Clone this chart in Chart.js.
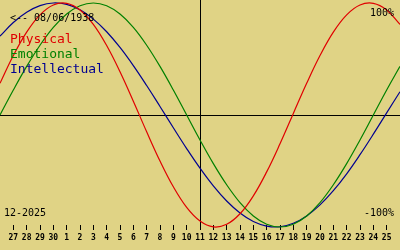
<!DOCTYPE html>
<html><head><meta charset="utf-8">
<script src="https://cdn.jsdelivr.net/npm/chart.js@4"></script>
<style>html,body{margin:0;padding:0;background:#E0D385;overflow:hidden}#wrap{width:400px;height:250px;position:relative}canvas{display:block}</style>
</head><body><div id="wrap"><canvas id="c" width="400" height="250"></canvas></div>
<script>
const days = ["26","27","28","29","30","1","2","3","4","5","6","7","8","9","10","11","12","13","14","15","16","17","18","19","20","21","22","23","24","25","26"];
const physical = [0.283,0.531,0.740,0.894,0.982,0.997,0.938,0.809,0.620,0.386,0.123,-0.150,-0.411,-0.641,-0.825,-0.947,-0.999,-0.976,-0.882,-0.722,-0.508,-0.257,0.014,0.283,0.531,0.740,0.894,0.982,0.997,0.938,0.809];
const emotional = [0.000,0.223,0.434,0.623,0.782,0.901,0.975,1.000,0.975,0.901,0.782,0.623,0.434,0.223,0.000,-0.223,-0.434,-0.623,-0.782,-0.901,-0.975,-1.000,-0.975,-0.901,-0.782,-0.623,-0.434,-0.223,0.000,0.223,0.434];
const intellectual = [0.704,0.826,0.917,0.976,1.000,0.987,0.939,0.856,0.743,0.603,0.441,0.263,0.076,-0.114,-0.300,-0.475,-0.633,-0.768,-0.875,-0.951,-0.992,-0.998,-0.967,-0.901,-0.803,-0.676,-0.525,-0.354,-0.171,0.019,0.208];
const seriesNames = ["Physical","Emotional","Intellectual"];
const seriesColors = ["#E00000","#008000","#000090"];
const birthText = "<-- 08/06/1938";
const monthText = "12-2025";
const topText = "100%";
const bottomText = "-100%";
const todayIndex = 15;

const overlay = {
  id:'overlay',
  beforeDraw(chart){
    const ctx=chart.ctx;
    ctx.save();ctx.fillStyle='#E0D385';ctx.fillRect(0,0,chart.width,chart.height);ctx.restore();
  },
  beforeDatasetsDraw(chart){
    const ctx=chart.ctx, x=chart.scales.x, y=chart.scales.y;
    ctx.save();
    ctx.fillStyle='#000';
    const y0=Math.round(y.getPixelForValue(0));
    ctx.fillRect(0,y0,chart.width,1);
    const xt=Math.round(x.getPixelForValue(todayIndex));
    ctx.fillRect(xt,0,1,230);
    ctx.restore();
  },
  afterDatasetsDraw(chart){
    const ctx=chart.ctx;
    ctx.save();
    ctx.textBaseline='alphabetic';
    ctx.font='10px "DejaVu Sans Mono"';
    ctx.fillStyle='#000';
    ctx.textAlign='left';
    ctx.fillText(birthText,10,21);
    ctx.fillText(monthText,4,216);
    ctx.textAlign='right';
    ctx.fillText(topText,394,16);
    ctx.fillText(bottomText,394,216);
    ctx.textAlign='left';
    ctx.font='13px "DejaVu Sans Mono"';
    seriesNames.forEach((n,i)=>{ctx.fillStyle=seriesColors[i];ctx.fillText(n,10,43+i*15);});
    ctx.restore();
  }
};

const mk=(label,data,color)=>({label,data,borderColor:color,borderWidth:1.2,pointRadius:0,tension:0.4,fill:false,clip:false});

new Chart(document.getElementById('c'),{
  type:'line',
  data:{labels:days,datasets:[mk(seriesNames[0],physical,seriesColors[0]),mk(seriesNames[1],emotional,seriesColors[1]),mk(seriesNames[2],intellectual,seriesColors[2])]},
  options:{
    responsive:false,animation:false,devicePixelRatio:1,
    layout:{padding:0},
    plugins:{legend:{display:false},tooltip:{enabled:false}},
    scales:{
      x:{type:'category',offset:false,
        border:{display:false},
        grid:{drawOnChartArea:false,drawTicks:true,tickLength:5,color:'#000',lineWidth:1},
        ticks:{autoSkip:false,maxRotation:0,minRotation:0,padding:3,color:'#000',font:{family:'DejaVu Sans Mono',size:8,weight:'bold'},
          callback:function(v,i){return (i===0||i===days.length-1)?null:days[i];}},
        afterFit:(s)=>{s.height=25;}
      },
      y:{display:false,min:-110/112,max:115/112}
    }
  },
  plugins:[overlay]
});
</script></body></html>
